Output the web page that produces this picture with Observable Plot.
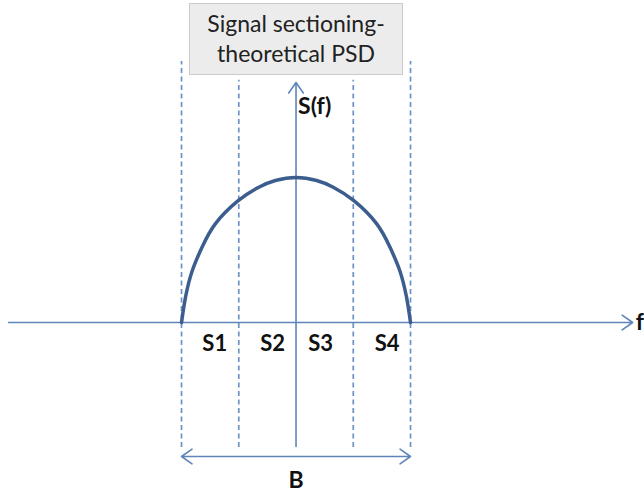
<!DOCTYPE html>
<html>
<head>
<meta charset="utf-8">
<script src="https://cdn.jsdelivr.net/npm/d3@7"></script>
<script src="https://cdn.jsdelivr.net/npm/@observablehq/plot@0.6"></script>
<style>
  html, body { margin: 0; padding: 0; background: #fff; }
  #wrap { position: relative; width: 644px; height: 495px; }
  #title {
    position: absolute; left: 189px; top: 3px; width: 212px; height: 66px;
    background: #ececec; border: 1px solid #cbcbcb;
    font-family: Lato, "Open Sans", sans-serif; font-size: 23px; color: #222;
    text-align: center; line-height: 30px; padding-top: 4px; box-sizing: content-box;
  }
</style>
</head>
<body>
<div id="wrap"><div id="title">Signal sectioning-<br>theoretical PSD</div></div>
<script>
// Frequency (normalized, band B spans -2..2) and PSD value (normalized to peak = 1)
const curveF = [-2, -1.93, -1.81, -1.64, -1.41, -1.01, -0.65, -0.36, 0, 0.36, 0.65, 1.01, 1.41, 1.64, 1.81, 1.93, 2];
const curveS = [0, 0.175, 0.36, 0.52, 0.68, 0.84, 0.933, 0.979, 1, 0.979, 0.933, 0.84, 0.68, 0.52, 0.36, 0.175, 0];
const outerEdges = [-2, 2];
const innerEdges = [-1, 1];
const sectionLabels = ["S1", "S2", "S3", "S4"];
const sectionLabelF = [-1.42, -0.41, 0.43, 1.59];
const axisLabels = { vertical: "S(f)", horizontal: "f", band: "B" };

const curve = curveF.map((f, i) => ({ f, s: curveS[i] }));
const sections = sectionLabels.map((name, i) => ({ name, f: sectionLabelF[i] }));

const axisColor = "#5f86b9";
const dashColor = "#6d92c4";
const curveColor = "#3c5e8e";
const font = "Lato, 'Open Sans', sans-serif";

const chart = Plot.plot({
  width: 644,
  height: 495,
  marginLeft: 0, marginRight: 0, marginTop: 0, marginBottom: 0,
  x: { domain: [-5.162, 6.087], range: [0, 644], axis: null },
  y: { domain: [-1.193, 2.2207], range: [495, 0], axis: null },
  style: { fontFamily: font, background: "transparent", overflow: "visible" },
  marks: [
    Plot.ruleX(outerEdges, { x: d => d, y1: -0.862, y2: 1.80, stroke: dashColor, strokeWidth: 1.7, strokeDasharray: "5,3.5" }),
    Plot.ruleX(innerEdges, { x: d => d, y1: -0.862, y2: 1.67, stroke: dashColor, strokeWidth: 1.7, strokeDasharray: "5,3.5" }),
    Plot.arrow([{}], { x1: -5.02, x2: 5.88, y1: 0, y2: 0, stroke: axisColor, strokeWidth: 1.6, headLength: 12, headAngle: 70 }),
    Plot.arrow([{}], { x1: 0, x2: 0, y1: -0.855, y2: 1.655, stroke: axisColor, strokeWidth: 1.6, headLength: 12, headAngle: 70 }),
    Plot.arrow(outerEdges, { x1: 0, x2: d => d, y1: -0.924, y2: -0.924, stroke: axisColor, strokeWidth: 1.6, headLength: 12, headAngle: 70 }),
    Plot.line(curve, { x: "f", y: "s", curve: "natural", stroke: curveColor, strokeWidth: 3.5 }),
    Plot.text(sections, { x: "f", y: -0.15, text: "name", fontSize: 22, fontWeight: "bold", fill: "#111" }),
    Plot.text([axisLabels.vertical], { x: 0, y: 1.49, dx: 2, text: d => d, textAnchor: "start", fontSize: 23, fontWeight: "bold", fill: "#111" }),
    Plot.text([axisLabels.horizontal], { x: 5.88, y: 0, dx: 3, text: d => d, textAnchor: "start", fontSize: 23, fontWeight: "bold", fill: "#111" }),
    Plot.text([axisLabels.band], { x: 0, y: -1.09, text: d => d, fontSize: 23, fontWeight: "bold", fill: "#111" })
  ]
});
chart.style.position = "absolute";
chart.style.left = "0";
chart.style.top = "0";
document.getElementById("wrap").prepend(chart);
</script>
</body>
</html>
